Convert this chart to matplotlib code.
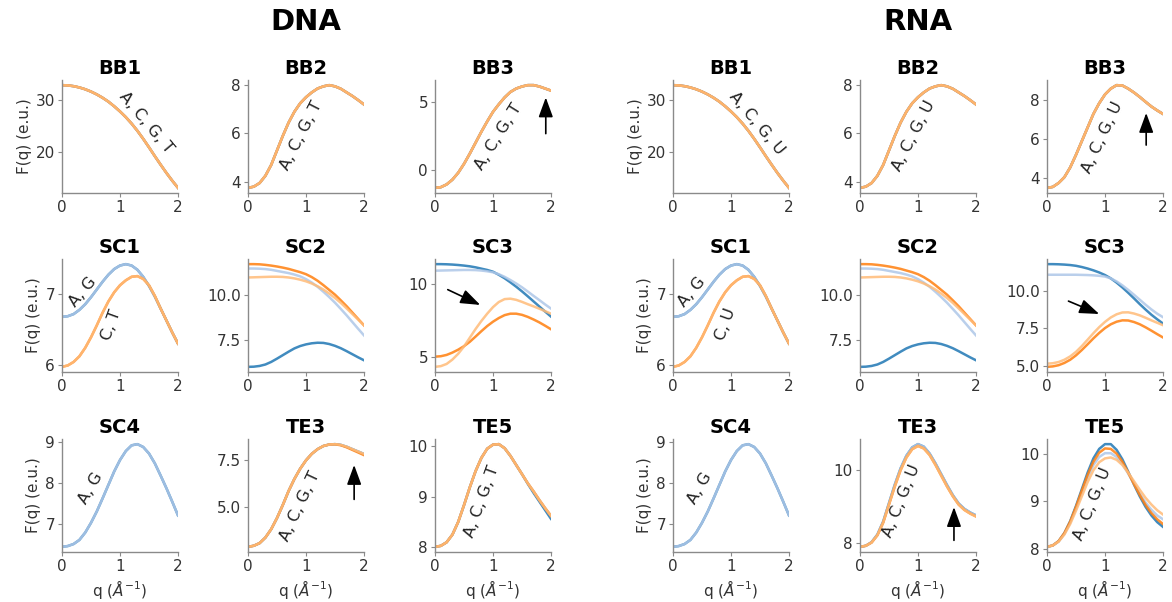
import matplotlib
import matplotlib.pyplot as plt

matplotlib.use("Agg")

# q grid (1/Angstrom) and form-factor curves
Q = [0.0, 0.1, 0.2, 0.3, 0.4, 0.5, 0.6, 0.7, 0.8, 0.9, 1.0,
     1.1, 1.2, 1.3, 1.4, 1.5, 1.6, 1.7, 1.8, 1.9, 2.0]

BB1 = [32.9, 32.85, 32.7, 32.45, 32.1, 31.65, 31.1, 30.45, 29.7, 28.8, 27.8,
       26.7, 25.45, 24.05, 22.5, 20.85, 19.15, 17.5, 15.9, 14.4, 13.0]
BB2 = [3.75, 3.8, 3.95, 4.25, 4.7, 5.3, 5.9, 6.45, 6.9, 7.25, 7.5,
       7.7, 7.86, 7.95, 8.0, 7.95, 7.85, 7.7, 7.55, 7.38, 7.2]
BB3_DNA = [-1.3, -1.25, -1.05, -0.7, -0.2, 0.45, 1.2, 2.0, 2.8, 3.55, 4.25,
           4.8, 5.3, 5.7, 5.95, 6.1, 6.2, 6.2, 6.1, 5.95, 5.8]
BB3_RNA = [3.5, 3.55, 3.75, 4.05, 4.55, 5.2, 5.9, 6.6, 7.3, 7.85, 8.3,
           8.6, 8.78, 8.76, 8.6, 8.4, 8.17, 7.92, 7.68, 7.48, 7.3]

SC1_AG = [6.68, 6.69, 6.72, 6.78, 6.86, 6.96, 7.07, 7.18, 7.28, 7.36, 7.41,
          7.43, 7.41, 7.35, 7.25, 7.12, 6.97, 6.8, 6.63, 6.46, 6.3]
SC1_CT = [5.97, 5.99, 6.04, 6.12, 6.24, 6.39, 6.56, 6.74, 6.9, 7.03, 7.13,
          7.2, 7.25, 7.26, 7.22, 7.13, 6.98, 6.8, 6.63, 6.46, 6.3]

SC2_A = [6.05, 6.06, 6.1, 6.18, 6.32, 6.5, 6.69, 6.88, 7.06, 7.19, 7.28,
         7.34, 7.37, 7.36, 7.3, 7.2, 7.07, 6.91, 6.74, 6.57, 6.41]
SC2_G = [11.43, 11.43, 11.42, 11.4, 11.36, 11.3, 11.24, 11.18, 11.1, 11.0, 10.85,
         10.66, 10.43, 10.16, 9.87, 9.56, 9.22, 8.87, 8.5, 8.13, 7.77]
SC2_C = [11.67, 11.67, 11.66, 11.63, 11.59, 11.54, 11.48, 11.41, 11.32, 11.23, 11.12,
         10.96, 10.76, 10.52, 10.26, 10.0, 9.69, 9.37, 9.02, 8.67, 8.32]
SC2_T = [10.94, 10.95, 10.96, 10.97, 10.98, 10.98, 10.97, 10.94, 10.89, 10.82, 10.73,
         10.61, 10.46, 10.28, 10.06, 9.82, 9.55, 9.25, 8.94, 8.63, 8.32]

SC3_DNA_A = [11.35, 11.35, 11.34, 11.32, 11.29, 11.25, 11.2, 11.13, 11.04, 10.95, 10.83,
             10.62, 10.38, 10.1, 9.8, 9.48, 9.14, 8.79, 8.44, 8.09, 7.75]
SC3_DNA_G = [10.9, 10.91, 10.92, 10.93, 10.94, 10.95, 10.95, 10.94, 10.91, 10.86, 10.79,
             10.66, 10.48, 10.26, 10.02, 9.76, 9.47, 9.17, 8.88, 8.58, 8.3]
SC3_DNA_C = [5.0, 5.03, 5.12, 5.28, 5.48, 5.72, 6.02, 6.38, 6.75, 7.1, 7.4,
             7.65, 7.85, 7.95, 7.95, 7.87, 7.73, 7.55, 7.35, 7.12, 6.88]
SC3_DNA_T = [4.3, 4.35, 4.5, 4.8, 5.2, 5.7, 6.3, 6.9, 7.45, 7.95, 8.4,
             8.75, 8.95, 8.98, 8.9, 8.76, 8.6, 8.45, 8.29, 8.12, 7.95]

SC3_RNA_A = [11.74, 11.74, 11.73, 11.71, 11.68, 11.63, 11.55, 11.45, 11.33, 11.19, 11.02,
             10.8, 10.52, 10.2, 9.85, 9.48, 9.1, 8.74, 8.4, 8.1, 7.82]
SC3_RNA_G = [11.04, 11.04, 11.04, 11.04, 11.04, 11.04, 11.03, 11.02, 11.0, 10.97, 10.92,
             10.8, 10.6, 10.34, 10.04, 9.72, 9.39, 9.06, 8.75, 8.47, 8.24]
SC3_RNA_C = [4.96, 4.99, 5.07, 5.22, 5.43, 5.72, 6.07, 6.45, 6.84, 7.2, 7.52,
             7.77, 7.94, 8.03, 8.02, 7.92, 7.77, 7.57, 7.35, 7.12, 6.9]
SC3_RNA_U = [5.17, 5.2, 5.28, 5.43, 5.65, 5.95, 6.33, 6.75, 7.18, 7.58, 7.93,
             8.22, 8.43, 8.55, 8.56, 8.48, 8.36, 8.2, 8.03, 7.87, 7.71]

SC4 = [6.43, 6.45, 6.5, 6.6, 6.78, 7.02, 7.3, 7.62, 7.95, 8.28, 8.56,
       8.78, 8.92, 8.95, 8.88, 8.72, 8.48, 8.18, 7.87, 7.54, 7.2]

TE3_DNA = [2.85, 2.91, 3.05, 3.35, 3.8, 4.4, 5.1, 5.85, 6.5, 7.05, 7.5,
           7.85, 8.1, 8.27, 8.35, 8.37, 8.33, 8.23, 8.1, 7.97, 7.84]
TE3_DNA_C = [2.85, 2.91, 3.05, 3.35, 3.8, 4.4, 5.1, 5.85, 6.5, 7.05, 7.5,
             7.85, 8.1, 8.27, 8.35, 8.36, 8.31, 8.2, 8.06, 7.92, 7.78]
TE5_DNA = [8.01, 8.03, 8.1, 8.25, 8.5, 8.83, 9.18, 9.5, 9.76, 9.94, 10.02,
           10.03, 9.95, 9.8, 9.62, 9.44, 9.26, 9.1, 8.93, 8.77, 8.62]
TE5_DNA_A = [8.01, 8.03, 8.1, 8.25, 8.5, 8.83, 9.18, 9.5, 9.76, 9.94, 10.02,
             10.03, 9.95, 9.8, 9.62, 9.44, 9.25, 9.07, 8.9, 8.73, 8.56]

TE3_RNA = [7.88, 7.91, 8.0, 8.2, 8.55, 9.05, 9.55, 10.0, 10.35, 10.58, 10.67,
           10.6, 10.42, 10.15, 9.85, 9.55, 9.28, 9.05, 8.9, 8.8, 8.72]
TE3_RNA_AG = [7.88, 7.91, 8.01, 8.22, 8.58, 9.09, 9.6, 10.05, 10.4, 10.63, 10.72,
              10.65, 10.46, 10.19, 9.89, 9.59, 9.31, 9.08, 8.93, 8.83, 8.75]
TE5_RNA_A = [8.04, 8.07, 8.16, 8.33, 8.58, 8.9, 9.25, 9.6, 9.9, 10.1, 10.2,
             10.2, 10.08, 9.88, 9.62, 9.35, 9.1, 8.88, 8.7, 8.56, 8.46]
TE5_RNA_C = [8.04, 8.07, 8.16, 8.33, 8.57, 8.88, 9.22, 9.55, 9.83, 10.02, 10.11,
             10.1, 10.0, 9.83, 9.6, 9.36, 9.13, 8.92, 8.75, 8.62, 8.52]
TE5_RNA_G = [8.04, 8.07, 8.15, 8.31, 8.55, 8.85, 9.18, 9.5, 9.76, 9.93, 10.01,
             10.01, 9.93, 9.78, 9.58, 9.37, 9.16, 8.97, 8.82, 8.7, 8.62]
TE5_RNA_U = [8.04, 8.07, 8.15, 8.3, 8.52, 8.8, 9.1, 9.4, 9.65, 9.82, 9.9,
             9.92, 9.87, 9.76, 9.6, 9.42, 9.24, 9.07, 8.93, 8.81, 8.72]

COLORS = {"A": "#1f77b4", "G": "#aec7e8", "C": "#ff7f0e", "T": "#ffbb78", "U": "#ffbb78"}

# (title, curves in drawing order, y ticks, labels [(text, q, y, rot)], arrows [(tail, tip)])
DNA_PANELS = [
    ("BB1", [("A", BB1), ("G", BB1), ("C", BB1), ("T", BB1)], [20, 30],
     [("A, C, G, T", 1.45, 25.6, -50)], []),
    ("BB2", [("A", BB2), ("G", BB2), ("C", BB2), ("T", BB2)], [4, 6, 8],
     [("A, C, G, T", 0.92, 5.9, 63)], []),
    ("BB3", [("A", BB3_DNA), ("G", BB3_DNA), ("C", BB3_DNA), ("T", BB3_DNA)], [0, 5],
     [("A, C, G, T", 1.1, 2.4, 58)], [((1.91, 2.66), (1.91, 5.3))]),
    ("SC1", [("A", SC1_AG), ("G", SC1_AG), ("C", SC1_CT), ("T", SC1_CT)], [6, 7],
     [("A, G", 0.36, 7.03, 50), ("C, T", 0.85, 6.57, 70)], []),
    ("SC2", [("A", SC2_A), ("G", SC2_G), ("C", SC2_C), ("T", SC2_T)], [7.5, 10.0], [], []),
    ("SC3", [("A", SC3_DNA_A), ("G", SC3_DNA_G), ("C", SC3_DNA_C), ("T", SC3_DNA_T)], [5, 10],
     [], [((0.22, 9.6), (0.78, 8.55))]),
    ("SC4", [("A", SC4), ("G", SC4)], [7, 8, 9],
     [("A, G", 0.5, 7.88, 60)], []),
    ("TE3", [("A", TE3_DNA), ("G", TE3_DNA), ("C", TE3_DNA_C), ("T", TE3_DNA)], [5.0, 7.5],
     [("A, C, G, T", 0.9, 5.05, 65)], [((1.83, 5.4), (1.83, 7.25))]),
    ("TE5", [("A", TE5_DNA_A), ("G", TE5_DNA), ("C", TE5_DNA), ("T", TE5_DNA)], [8, 9, 10],
     [("A, C, G, T", 0.8, 8.9, 70)], []),
]

RNA_PANELS = [
    ("BB1", [("A", BB1), ("G", BB1), ("C", BB1), ("U", BB1)], [20, 30],
     [("A, C, G, U", 1.45, 25.6, -50)], []),
    ("BB2", [("A", BB2), ("G", BB2), ("C", BB2), ("U", BB2)], [4, 6, 8],
     [("A, C, G, U", 0.92, 5.9, 63)], []),
    ("BB3", [("A", BB3_RNA), ("G", BB3_RNA), ("C", BB3_RNA), ("U", BB3_RNA)], [4, 6, 8],
     [("A, C, G, U", 0.95, 6.1, 65)], [((1.71, 5.7), (1.71, 7.35))]),
    ("SC1", [("A", SC1_AG), ("G", SC1_AG), ("C", SC1_CT), ("U", SC1_CT)], [6, 7],
     [("A, G", 0.32, 7.03, 50), ("C, U", 0.9, 6.57, 70)], []),
    ("SC2", [("A", SC2_A), ("G", SC2_G), ("C", SC2_C), ("U", SC2_T)], [7.5, 10.0], [], []),
    ("SC3", [("A", SC3_RNA_A), ("G", SC3_RNA_G), ("C", SC3_RNA_C), ("U", SC3_RNA_U)],
     [5.0, 7.5, 10.0], [], [((0.37, 9.3), (0.9, 8.45))]),
    ("SC4", [("A", SC4), ("G", SC4)], [7, 8, 9],
     [("A, G", 0.46, 7.88, 60)], []),
    ("TE3", [("A", TE3_RNA_AG), ("G", TE3_RNA_AG), ("C", TE3_RNA), ("U", TE3_RNA)], [8, 10],
     [("A, C, G, U", 0.72, 9.15, 68)], [((1.62, 8.06), (1.62, 8.98))]),
    ("TE5", [("A", TE5_RNA_A), ("G", TE5_RNA_G), ("C", TE5_RNA_C), ("U", TE5_RNA_U)], [8, 9, 10],
     [("A, C, G, U", 0.78, 8.95, 68)], []),
]

plt.rcParams["font.family"] = "DejaVu Sans"

W, H = 1172, 602
fig = plt.figure(figsize=(W / 100, H / 100), dpi=100)

col_left = [62, 248, 435, 673, 860, 1047]
row_top = [80, 259, 439]
ax_w, ax_h = 116, 113


def draw_panel(ax, panel, first_col, bottom_row):
    title, curves, yticks, labels, arrows = panel
    for base, vals in curves:
        ax.plot(Q, vals, color=COLORS[base], lw=1.8, alpha=0.85)
    ax.set_xlim(0, 2)
    ax.set_xticks([0, 1, 2])
    ax.set_yticks(yticks)
    ax.set_title(title, fontsize=14, fontweight="bold", pad=4)
    for side in ("top", "right"):
        ax.spines[side].set_visible(False)
    for side in ("left", "bottom"):
        ax.spines[side].set_color("#8a8a8a")
        ax.spines[side].set_linewidth(1.0)
    ax.tick_params(colors="#8a8a8a", labelcolor="#333333", labelsize=11, length=3, pad=2)
    for text, tx, ty, rot in labels:
        ax.text(tx, ty, text, rotation=rot, fontsize=11.5, ha="center", va="center",
                color="#222222", rotation_mode="anchor")
    for tail, tip in arrows:
        ax.annotate("", xy=tip, xytext=tail,
                    arrowprops=dict(arrowstyle="-|>,head_length=0.6,head_width=0.22",
                                    color="black", lw=1.2, mutation_scale=20,
                                    shrinkA=0, shrinkB=0))
    if first_col:
        ax.set_ylabel("F(q) (e.u.)", fontsize=11, color="#333333", labelpad=3)
    if bottom_row:
        ax.set_xlabel(r"q ($Å^{-1}$)", fontsize=11, color="#333333", labelpad=3)


for group, panels in enumerate([DNA_PANELS, RNA_PANELS]):
    for i, panel in enumerate(panels):
        r, c = divmod(i, 3)
        x0 = col_left[group * 3 + c]
        y0 = row_top[r]
        ax = fig.add_axes([x0 / W, 1 - (y0 + ax_h) / H, ax_w / W, ax_h / H])
        draw_panel(ax, panel, c == 0, r == 2)

fig.text((248 + ax_w / 2) / W, 1 - 22 / H, "DNA", fontsize=21, fontweight="bold",
         ha="center", va="center")
fig.text((860 + ax_w / 2) / W, 1 - 22 / H, "RNA", fontsize=21, fontweight="bold",
         ha="center", va="center")

fig.savefig("out.png", dpi=100)
plt.close(fig)
